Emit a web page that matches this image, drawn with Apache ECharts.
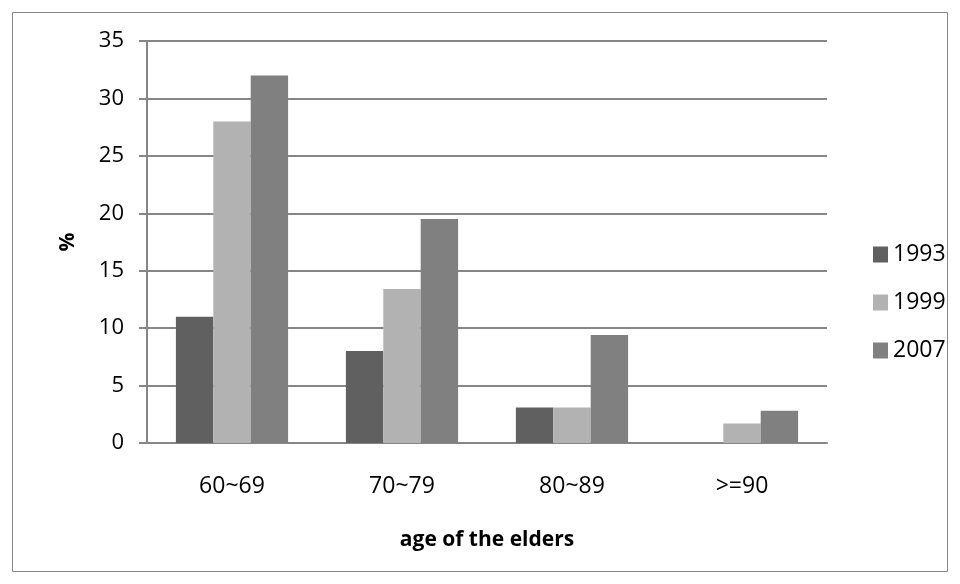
<!DOCTYPE html>
<html><head><meta charset="utf-8">
<script src="https://cdn.jsdelivr.net/npm/echarts@6/dist/echarts.min.js"></script>
<style>html,body{margin:0;padding:0;background:#fff}#c{width:960px;height:584px}</style>
</head><body><div id="c"></div>
<script>
var categories = ['60~69', '70~79', '80~89', '>=90'];
var years = ['1993', '1999', '2007'];
var v1993 = [11, 8, 3.1, 0];
var v1999 = [28, 13.4, 3.1, 1.7];
var v2007 = [32, 19.5, 9.4, 2.8];
var yTicks = [0, 5, 10, 15, 20, 25, 30, 35];
var colors = ['#606060', '#b2b2b2', '#808080'];
var font = '"Open Sans", Lato, sans-serif';
var chart = echarts.init(document.getElementById('c'));
var data = [v1993, v1999, v2007];
chart.setOption({
  animation: false,
  graphic: [{type: 'rect', shape: {x: 12.5, y: 12.5, width: 935, height: 559}, style: {fill: 'none', stroke: '#868686', lineWidth: 1}}],
  grid: {left: 147, right: 133, top: 41, bottom: 141, containLabel: false},
  legend: {
    orient: 'vertical', left: 868, top: 238, itemWidth: 15, itemHeight: 16, itemGap: 25,
    icon: 'rect', textStyle: {fontFamily: font, fontSize: 23, lineHeight: 23, color: '#000'},
    data: years
  },
  xAxis: {
    type: 'category', data: categories,
    name: 'age of the elders', nameLocation: 'middle', nameGap: 87,
    nameTextStyle: {fontFamily: font, fontSize: 21, fontWeight: 'bold', color: '#000'},
    axisLine: {lineStyle: {color: '#868686', width: 2}},
    axisTick: {show: false},
    axisLabel: {fontFamily: font, fontSize: 23, color: '#000', margin: 32}
  },
  yAxis: {
    type: 'value', min: 0, max: 35, interval: 5,
    name: '%', nameLocation: 'middle', nameGap: 68, nameRotate: 90,
    nameTextStyle: {fontFamily: font, fontSize: 21, fontWeight: 'bold', color: '#000'},
    axisLine: {show: true, lineStyle: {color: '#868686', width: 2}},
    axisTick: {show: true, length: 8, lineStyle: {color: '#868686', width: 2}},
    splitLine: {lineStyle: {color: '#868686', width: 2}},
    axisLabel: {fontFamily: font, fontSize: 22, color: '#000', margin: 23,
      formatter: function (v) { return yTicks.indexOf(v) >= 0 ? String(v) : ''; }}
  },
  series: years.map(function (y, i) {
    return {
      name: y, type: 'bar', data: data[i], barGap: '0%', barCategoryGap: '34%',
      itemStyle: {color: colors[i]}
    };
  })
});
</script></body></html>
